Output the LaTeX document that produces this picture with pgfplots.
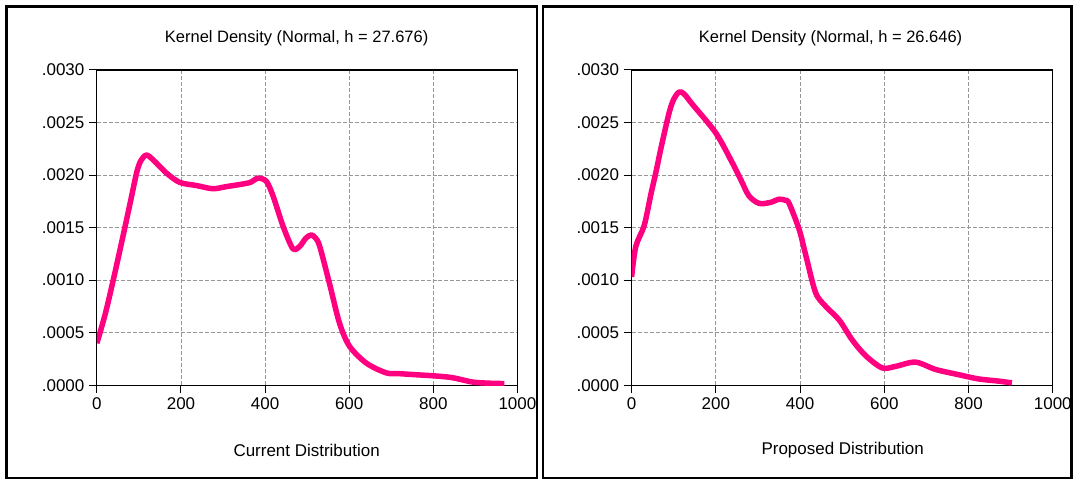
\documentclass[border=0pt]{standalone}
\usepackage{fontspec}
\setmainfont{Liberation Sans}
\usepackage{pgfplots}
\pgfplotsset{compat=1.18}
\definecolor{kd}{RGB}{255,0,128}
\definecolor{gridc}{RGB}{150,150,150}
\pgfplotsset{
  kdline/.style={color=kd, line width=5.5pt, line join=round, line cap=butt, smooth, tension=0.5, mark=none},
  kdaxis/.style={
    scale only axis,
    anchor=south west,
    height=315.7pt,
    xmin=0, xmax=1000, ymin=0, ymax=0.003,
    xtick={0,200,400,600,800,1000},
    xticklabels={0,200,400,600,800,1000},
    ytick={0,0.0005,0.001,0.0015,0.002,0.0025,0.003},
    yticklabels={.0000,.0005,.0010,.0015,.0020,.0025,.0030},
    scaled y ticks=false,
    /pgf/number format/assume math mode=true,
    tick align=outside,
    xtick pos=bottom, ytick pos=left,
    major tick length=8pt,
    tick style={black, line width=1pt},
    axis line style={black, line width=1.2pt},
    grid=major,
    major grid style={gridc, dash pattern=on 4pt off 2pt, line width=0.9pt},
    ticklabel style={font=\fontsize{17}{20}\selectfont},
    yticklabel style={xshift=-1pt},
    xticklabel style={yshift=-1pt},
  }
}
\begin{document}
\begin{tikzpicture}[x=1pt,y=1pt]
\path (0,0) rectangle (1075,482);
\draw[line width=2.6pt] (6.5,3.5) rectangle (537.5,475.5);
\draw[line width=2.6pt] (543.5,3.5) rectangle (1072.5,475.5);

\begin{axis}[kdaxis, at={(97pt,96.3pt)}, width=421pt]
\addplot[kdline] coordinates {
(0,0.0004) (20,0.00068) (40,0.00102) (60,0.00138) (80,0.00175)
(95,0.00203) (105,0.00214) (118,0.00219) (135,0.00214) (165,0.00202)
(197,0.00193) (237,0.0019) (276,0.00187) (308,0.00189) (340,0.00191)
(365,0.00193) (383,0.00197) (403,0.00194) (419,0.0018) (443,0.00151)
(466,0.0013) (482,0.00132) (497,0.0014) (510,0.00143) (520,0.0014)
(530,0.00132) (553,0.00097) (577,0.00059) (601,0.00037) (641,0.00021)
(688,0.000118) (720,0.00011) (759,0.0001) (800,0.00009) (839,0.000076)
(860,0.00006) (894,0.00003) (930,0.00002) (969,0.000016)
};
\end{axis}

\begin{axis}[kdaxis, at={(632.3pt,96.3pt)}, width=421.7pt]
\addplot[kdline] coordinates {
(0,0.00103) (10,0.00132) (30,0.00152) (46,0.00182) (58,0.00203) (70,0.00226)
(89,0.00259) (100,0.00272) (113,0.00279) (125,0.00277) (145,0.00267)
(200,0.0024) (240,0.00211) (260,0.00195) (279,0.0018) (303,0.00173)
(330,0.00174) (350,0.00177) (365,0.00176) (374,0.00173) (398,0.00148)
(414,0.00123) (437,0.00088) (461,0.00075) (493,0.00062) (524,0.00043)
(556,0.00028) (595,0.000165) (627,0.00018) (674,0.00022) (722,0.00015)
(777,0.0001) (824,0.00006) (870,0.00004) (903,0.000023)
};
\end{axis}

\node[font=\fontsize{16.5}{20}\selectfont] at (297,444) {Kernel Density (Normal, h = 27.676)};
\node[font=\fontsize{16.5}{20}\selectfont] at (831.5,444) {Kernel Density (Normal, h = 26.646)};
\node[font=\fontsize{17}{20}\selectfont] at (307,31) {Current Distribution};
\node[font=\fontsize{17}{20}\selectfont] at (843.7,31) {Proposed Distribution};
\end{tikzpicture}
\end{document}
